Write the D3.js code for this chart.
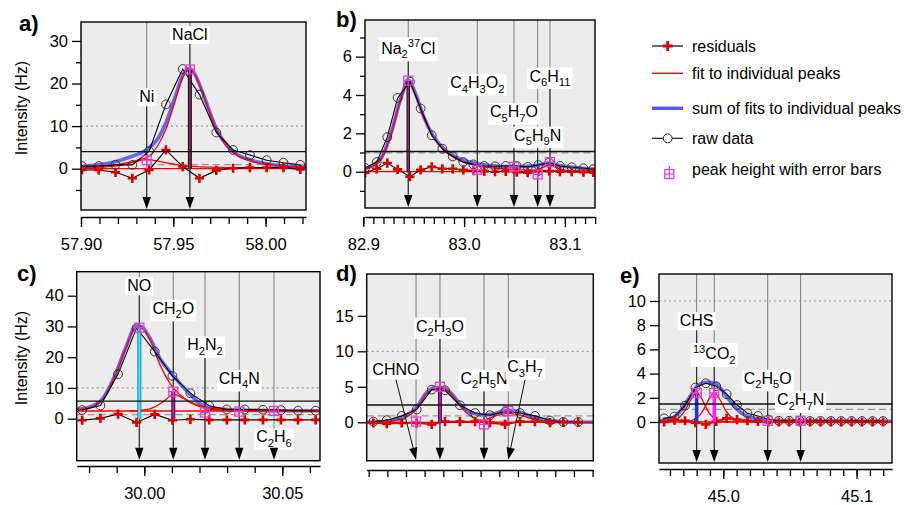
<!DOCTYPE html>
<html><head><meta charset="utf-8">
<script src="https://cdn.jsdelivr.net/npm/d3@7"></script>
<style>body{margin:0;background:#fff}svg{display:block}text{font-family:Arial,"Liberation Sans",sans-serif}</style>
</head><body><svg id="chart" width="912" height="505"></svg>
<script>
// ---------------- DATA ----------------
// Panel a
const massA = [57.9005,57.9096,57.9187,57.9278,57.9369,57.9460,57.9551,57.9642,57.9733,57.9824,57.9915,58.0006,58.0097,58.0188];
const rawA = [0.6,0.6,0.9,0.9,4.1,15.1,23.4,17.4,8.5,4.4,3.2,2.0,1.4,0.9];
const residA = [-0.3,-0.3,-0.85,-2.25,-0.3,4.4,0.5,-2.25,-0.4,0.1,0.25,0.25,0.25,-0.15];
const sumA = [[57.9000,0.5],[57.9092,0.9],[57.9180,1.6],[57.9270,2.8],[57.9360,4.6],[57.9417,7.1],[57.9462,11.0],[57.9507,16.5],[57.9552,22.0],[57.9588,23.5],[57.9615,22.3],[57.9651,18.8],[57.9697,13.4],[57.9741,8.7],[57.9795,5.2],[57.9850,3.2],[57.9922,2.0],[58.0012,1.1],[58.0103,0.63],[58.0219,0.3]];
const fitNiA = [[57.9000,0.2],[57.9150,0.5],[57.9250,1.1],[57.9310,1.8],[57.9356,2.2],[57.9400,1.9],[57.9500,1.1],[57.9550,0.7],[57.9700,0.35],[58.0000,0.15],[58.0219,0.1]];
const fitNaClA = [[57.9000,0.3],[57.9180,0.9],[57.9300,1.9],[57.9370,3.0],[57.9417,5.5],[57.9462,9.5],[57.9507,15.5],[57.9552,21.5],[57.9588,23.2],[57.9615,22.2],[57.9651,18.6],[57.9697,13.2],[57.9741,8.5],[57.9795,5.0],[57.9850,3.0],[57.9922,1.8],[58.0012,1.0],[58.0103,0.55],[58.0219,0.3]];
const peakMassA = [57.9356,57.9590];
const peakHeightA = [2.0,23.3];
const peakErrA = [0.6,0.8];
const peakLabelA = ["Ni","NaCl"];
const labelMassA = [57.9356,57.9590];
const labelYA = [16.9,31.5];
const thresholdA = 4.0, dashedA = 0.95, dashedStartA = 57.9356, baselineA = 0;
const xTickLabelsA = [57.90,57.95,58.00];
const yTickLabelsA = [0,10,20,30];
const yMinorA = [-5,5,15,25];

// Panel b
const massB = [82.9017,82.9133,82.9238,82.9341,82.9463,82.9569,82.9679,82.9784,82.9887,82.9992,83.0091,83.0200,83.0307,83.0413,83.0522,83.0631,83.0736,83.0845,83.0951,83.1067,83.1183,83.1282];
const rawB = [0.2,0.5,1.8,3.85,4.7,3.3,1.9,1.2,0.8,0.5,0.38,0.3,0.28,0.3,0.3,0.25,0.35,0.47,0.3,0.23,0.18,0.13];
const residB = [-0.05,0.15,0.45,0.12,-0.26,0.1,0.25,0.15,0.15,0.1,0.05,0.02,0.0,0.02,-0.02,-0.05,0.02,0.03,0.0,0.0,-0.03,-0.04];
const sumB = [[82.9017,0.18],[82.9086,0.3],[82.9186,0.78],[82.9285,2.17],[82.9367,3.74],[82.9450,4.75],[82.9516,4.09],[82.9599,2.87],[82.9698,1.83],[82.9813,1.13],[82.9946,0.7],[83.0111,0.44],[83.0310,0.3],[83.0508,0.26],[83.0674,0.3],[83.0839,0.42],[83.0971,0.3],[83.1170,0.18],[83.1299,0.12]];
const fitNa2ClB = [[82.9017,0.15],[82.9086,0.28],[82.9186,0.75],[82.9285,2.1],[82.9367,3.7],[82.9450,4.7],[82.9516,4.05],[82.9599,2.82],[82.9698,1.78],[82.9813,1.05],[82.9946,0.6],[83.0111,0.33],[83.0310,0.18],[83.0508,0.11],[83.0674,0.08],[83.0839,0.06],[83.1299,0.04]];
const fitC6H11B = [[83.0600,0.0],[83.0750,0.15],[83.0852,0.35],[83.0950,0.15],[83.1100,0.0]];
const peakMassB = [82.9446,83.0131,83.0495,83.0730,83.0852];
const peakHeightB = [4.75,0.1,0.26,-0.14,0.5];
const peakErrB = [0.15,0.1,0.1,0.1,0.1];
const peakLabelB = ["Na_2^37Cl","C_4H_3O_2","C_5H_7O","C_5H_9N","C_6H_11"];
const labelMassB = [82.9446,83.0131,83.0495,83.0730,83.0852];
const labelYB = [6.44,4.64,3.13,1.91,4.99];
const thresholdB = 1.05, dashedB = 0.98, dashedStartB = 82.9, baselineB = 0;
const xTickLabelsB = [82.9,83.0,83.1];
const yTickLabelsB = [0,2,4,6];
const yMinorB = [-1,1,3,5,7];

// Panel c
const massC = [29.9775,29.9841,29.9905,29.9972,30.0038,30.0102,30.0167,30.0235,30.0299,30.0364,30.0430,30.0495,30.0557,30.0621];
const rawC = [2.8,4.3,14.5,29.5,21.8,13.9,8.3,4.2,3.0,3.0,2.9,2.8,2.6,2.6];
const residC = [-0.5,0.1,1.5,-1.2,1.4,-0.5,-0.2,-0.4,-0.4,-0.4,-0.4,-0.4,-0.4,-0.4];
const sumC = [[29.9755,3.0],[29.9800,3.7],[29.9850,6.6],[29.9897,14.8],[29.9934,23.4],[29.9970,30.1],[29.9988,30.0],[30.0021,26.1],[30.0057,19.5],[30.0093,15.3],[30.0129,11.5],[30.0166,7.9],[30.0202,4.9],[30.0249,3.3],[30.0321,2.9],[30.0405,2.7],[30.0503,2.6],[30.0637,2.6]];
const fitNOC = [[29.9755,2.9],[29.9800,3.5],[29.9850,6.3],[29.9897,14.5],[29.9934,23.2],[29.9970,29.8],[29.9988,29.7],[30.0021,25.5],[30.0057,17.5],[30.0093,11.5],[30.0129,7.8],[30.0166,5.5],[30.0202,4.2],[30.0249,3.4],[30.0321,2.9],[30.0405,2.7],[30.0637,2.55]];
const fitCH2OC = [[29.9950,2.5],[30.0020,3.2],[30.0060,5.0],[30.0093,7.3],[30.0105,8.0],[30.0130,7.2],[30.0166,5.3],[30.0202,3.9],[30.0250,3.0],[30.0320,2.6],[30.0637,2.5]];
const peakMassC = [29.9982,30.0105,30.0220,30.0344,30.0470];
const peakHeightC = [29.6,8.8,2.0,2.3,2.5];
const peakErrC = [1.2,1.0,0.8,0.8,0.8];
const peakLabelC = ["NO","CH_2O","H_2N_2","CH_4N","C_2H_6"];
const labelMassC = [29.9982,30.0105,30.0220,30.0344,30.0470];
const labelYC = [43.2,35.9,24.0,13.1,-5.9];
const thresholdC = 5.7, dashedC = 1.3, dashedStartC = 29.9755, baselineC = 2.5;
const xTickLabelsC = [30.00,30.05];
const yTickLabelsC = [0,10,20,30,40];
const yMinorC = [];

// Panel d
const massD = [42.9825,42.9897,42.9977,43.0057,43.0138,43.0209,43.0289,43.0370,43.0450,43.0531,43.0611,43.0691,43.0772,43.0843,43.0923];
const rawD = [0.1,0.3,0.9,1.8,4.6,4.5,2.4,1.3,1.0,1.5,1.3,0.9,0.25,0.05,0.05];
const residD = [-0.1,-0.2,-0.1,-0.1,-0.3,0.1,0.1,0.1,-0.1,-0.3,0.1,0.1,-0.05,0.0,0.0];
const sumD = [[42.9789,0.0],[42.9893,0.1],[42.9982,0.8],[43.0054,2.0],[43.0107,4.1],[43.0152,4.9],[43.0197,4.9],[43.0241,4.1],[43.0295,2.4],[43.0357,1.27],[43.0420,1.03],[43.0482,1.27],[43.0536,1.7],[43.0589,1.6],[43.0661,0.93],[43.0733,0.42],[43.0822,0.1],[43.0929,0.0],[43.1004,0.0]];
const fitC2H3OD = [[42.9789,0.0],[42.9930,0.2],[43.0000,0.7],[43.0054,1.8],[43.0107,3.9],[43.0152,4.7],[43.0182,4.8],[43.0215,4.6],[43.0255,3.6],[43.0295,2.1],[43.0357,0.7],[43.0420,0.15],[43.0500,0.0],[43.1004,0.0]];
const fitC3H7D = [[43.0350,0.0],[43.0420,0.3],[43.0480,0.9],[43.0548,1.3],[43.0610,1.0],[43.0661,0.6],[43.0733,0.2],[43.0820,0.0]];
const peakMassD = [43.0054,43.0182,43.0418,43.0548];
const peakHeightD = [0.1,5.0,-0.3,1.6];
const peakErrD = [0.5,0.5,0.4,0.4];
const peakLabelD = ["CHNO","C_2H_3O","C_2H_5N","C_3H_7"];
const labelMassD = [42.9946,43.0182,43.0418,43.0638];
const labelYD = [7.37,13.56,6.2,7.83];
const thresholdD = 2.44, dashedD = 0.9, dashedStartD = 42.9789, baselineD = 0;
const xTickLabelsD = [43.00,43.05,43.10];
const yTickLabelsD = [0,5,10,15];
const yMinorD = [];

// Panel e
const massE = [44.9556,44.9634,44.9713,44.9791,44.9869,44.9947,45.0025,45.0103,45.0181,45.0260,45.0338,45.0416,45.0494,45.0572,45.0651,45.0729,45.0807,45.0885,45.0963,45.1041,45.1120,45.1198];
const rawE = [0.3,0.45,1.35,2.85,3.2,2.95,2.3,1.4,0.72,0.5,0.2,0.1,0.1,0.1,0.08,0.08,0.08,0.08,0.08,0.08,0.08,0.08];
const residE = [0.0,0.15,0.1,-0.05,-0.2,0.05,0.3,0.2,0.1,0.05,0.0,0.0,0.0,0.0,0.0,0.0,0.0,0.0,0.0,0.0,0.0,0.0];
const sumE = [[44.9518,0.1],[44.9613,0.3],[44.9688,1.05],[44.9750,2.1],[44.9812,3.06],[44.9875,3.28],[44.9938,3.2],[45.0000,2.5],[45.0063,1.55],[45.0138,0.72],[45.0238,0.3],[45.0363,0.1],[45.1265,0.05]];
const fitCHSE = [[44.9550,0.02],[44.9650,0.25],[44.9710,0.9],[44.9760,1.9],[44.9800,2.4],[44.9835,2.0],[44.9866,1.3],[44.9900,0.65],[44.9950,0.2],[45.0020,0.03],[45.0100,0.0]];
const fitCO2E = [[44.9700,0.0],[44.9780,0.2],[44.9830,0.65],[44.9866,1.3],[44.9897,2.0],[44.9932,2.4],[44.9972,1.9],[45.0020,0.9],[45.0080,0.25],[45.0150,0.03],[45.0250,0.0]];
const peakMassE = [44.9800,44.9932,45.0333,45.0580];
const peakHeightE = [2.4,2.4,0.1,0.1];
const peakErrE = [0.3,0.3,0.2,0.2];
const peakLabelE = ["CHS","^13CO_2","C_2H_5O","C_2H_7N"];
const labelMassE = [44.9800,44.9932,45.0333,45.0580];
const labelYE = [8.37,5.62,3.61,1.82];
const thresholdE = 1.49, dashedE = 1.05, dashedStartE = 44.9518, baselineE = 0;
const xTickLabelsE = [45.0,45.1];
const yTickLabelsE = [0,2,4,6,8,10];
const yMinorE = [];

const legendLabels = ["residuals","fit to individual peaks","sum of fits to individual peaks","raw data","peak height with error bars"];

// ---------------- LAYOUT / STYLE ----------------
const C_SUM = "#5858f4", C_RED = "#ff0000", C_RES = "#d80000", C_PK = "#e040d0";
const panels = [
  {name:"a)", nameXY:[19,31], box:{l:81,r:306,t:22,b:210}, axisY:217, xd:[57.90,58.0219], yd:[-9.7,34.45], minor:[57.90,58.02], fmt:".2f",
   mass:massA, raw:rawA, resid:residA, sum:sumA, fits:[fitNiA,fitNaClA], base:baselineA, peaks:peakMassA, heights:peakHeightA, errs:peakErrA,
   labels:peakLabelA, labelMass:labelMassA, labelY:labelYA, thr:thresholdA, dash:dashedA, dashStart:dashedStartA, xLab:xTickLabelsA, yLab:yTickLabelsA, yMinor:yMinorA,
   residColor:"#000", stems:[{o:"#ff66cc",ow:1.5},{o:"#111",ow:4,i:"#b0207a",iw:1.5}]},
  {name:"b)", nameXY:[336,27], box:{l:365,r:595,t:20,b:208}, axisY:217, xd:[82.90169,83.12986], yd:[-1.894,7.913], minor:[82.90,83.13], fmt:".1f",
   mass:massB, raw:rawB, resid:residB, sum:sumB, fits:[fitNa2ClB,fitC6H11B], base:baselineB, peaks:peakMassB, heights:peakHeightB, errs:peakErrB,
   labels:peakLabelB, labelMass:labelMassB, labelY:labelYB, thr:thresholdB, dash:dashedB, dashStart:dashedStartB, xLab:xTickLabelsB, yLab:yTickLabelsB, yMinor:yMinorB,
   residColor:"#000", stems:[{o:"#111",ow:3.5,i:"#b0207a",iw:1.5},null,null,null,null]},
  {name:"c)", nameXY:[17,281], box:{l:76.7,r:320,t:271.7,b:460.7}, axisY:466, xd:[29.97551,30.06366], yd:[-13.66,47.80], minor:[29.98,30.06], fmt:".2f",
   mass:massC, raw:rawC, resid:residC, sum:sumC, fits:[fitNOC,fitCH2OC], base:baselineC, peaks:peakMassC, heights:peakHeightC, errs:peakErrC,
   labels:peakLabelC, labelMass:labelMassC, labelY:labelYC, thr:thresholdC, dash:dashedC, dashStart:dashedStartC, xLab:xTickLabelsC, yLab:yTickLabelsC, yMinor:yMinorC,
   residColor:"#000", stems:[{o:"#0d7f96",ow:4,i:"#45e3f5",iw:2.2},{o:"#5a005a",ow:4,i:"#a02898",iw:2},null,null,null]},
  {name:"d)", nameXY:[336,281], box:{l:366.7,r:593.3,t:274,b:460.7}, axisY:470, xd:[42.97894,43.10038], yd:[-5.41,20.89], minor:[42.98,43.10], fmt:".2f", clipR:589,
   mass:massD, raw:rawD, resid:residD, sum:sumD, fits:[fitC2H3OD,fitC3H7D], base:baselineD, peaks:peakMassD, heights:peakHeightD, errs:peakErrD,
   labels:peakLabelD, labelMass:labelMassD, labelY:labelYD, thr:thresholdD, dash:dashedD, dashStart:dashedStartD, xLab:xTickLabelsD, yLab:yTickLabelsD, yMinor:yMinorD,
   residColor:"#e00000", stems:[null,{o:"#5a005a",ow:4,i:"#a02898",iw:2},null,{o:"#d040d0",ow:2}]},
  {name:"e)", nameXY:[620,283], box:{l:659,r:892,t:274,b:463}, axisY:469, xd:[44.95176,45.12656], yd:[-3.39,12.23], minor:[44.96,45.12], fmt:".1f",
   mass:massE, raw:rawE, resid:residE, sum:sumE, fits:[fitCHSE,fitCO2E], base:baselineE, peaks:peakMassE, heights:peakHeightE, errs:peakErrE,
   labels:peakLabelE, labelMass:labelMassE, labelY:labelYE, thr:thresholdE, dash:dashedE, dashStart:dashedStartE, xLab:xTickLabelsE, yLab:yTickLabelsE, yMinor:yMinorE,
   residColor:"#e00000", stems:[{o:"#2436d8",ow:3.5},{o:"#ff22ff",ow:3.5},null,null]}
];

const svg = d3.select("#chart");
const defs = svg.append("defs");
const FONT = "Arial, 'Liberation Sans', sans-serif";

function parseLabel(s){
  const segs=[]; let i=0;
  while(i<s.length){
    const c=s[i];
    if(c==="_"||c==="^"){ let j=i+1, d=""; while(j<s.length && /[0-9]/.test(s[j])){d+=s[j];j++;} segs.push({t:d,k:c==="_"?"sub":"sup"}); i=j; }
    else { let j=i, d=""; while(j<s.length && s[j]!=="_" && s[j]!=="^"){d+=s[j];j++;} segs.push({t:d,k:"n"}); i=j; }
  }
  return segs;
}
function richText(g, str, x, y, size, anchor){
  const t = g.append("text").attr("x",x).attr("y",y).attr("text-anchor",anchor||"middle").attr("font-size",size).attr("font-family",FONT).attr("fill","#000");
  let cur=0;
  parseLabel(str).forEach(s=>{
    const target = s.k==="sub"? size*0.28 : s.k==="sup"? -size*0.4 : 0;
    t.append("tspan").attr("dy",target-cur).attr("font-size", s.k==="n"? size : size*0.7).text(s.t);
    cur=target;
  });
  return t;
}
function plusPath(s){ return `M${-s},0H${s}M0,${-s}V${s}`; }

panels.forEach((p,pi)=>{
  const {l,r,t,b} = p.box;
  const x = d3.scaleLinear().domain(p.xd).range([l,r]);
  const y = d3.scaleLinear().domain(p.yd).range([b,t]);
  const cid = "clip"+pi;
  defs.append("clipPath").attr("id",cid).append("rect").attr("x",l).attr("y",t).attr("width",r-l).attr("height",b-t);
  const g = svg.append("g");
  g.append("rect").attr("x",l).attr("y",t).attr("width",r-l).attr("height",b-t).attr("fill","#ececec");
  const pg = g.append("g").attr("clip-path",`url(#${cid})`);
  const gRef = pg.append("g"), gLines = pg.append("g"), gSum = pg.append("g"), gFit = pg.append("g"), gRaw = pg.append("g"),
        gRes = pg.append("g"), gStem = pg.append("g"), gPk = pg.append("g"), gLab = g.append("g"), gThr = pg.append("g"), gArr = g.append("g");

  // reference lines
  if (10 < p.yd[1]) gRef.append("line").attr("x1",l).attr("x2",r).attr("y1",y(10)).attr("y2",y(10)).attr("stroke","#9a9a9a").attr("stroke-width",1.2).attr("stroke-dasharray","2,3");
  gRef.append("line").attr("x1",x(p.dashStart)).attr("x2",r).attr("y1",y(p.dash)).attr("y2",y(p.dash)).attr("stroke","#999").attr("stroke-width",1.3).attr("stroke-dasharray","7,4");

  // labels first (to know their extents)
  const boxes = p.labels.map((lab,i)=>{
    const cx = x(p.labelMass[i]), cy = y(p.labelY[i]);
    const bg = gLab.append("rect").attr("fill","#fff");
    const tx = richText(gLab, lab, cx, cy+5.5, 16);
    const bb = tx.node().getBBox();
    bg.attr("x",bb.x-2).attr("y",bb.y).attr("width",bb.width+4).attr("height",bb.height+1);
    return {cx, top:bb.y, bot:bb.y+bb.height+1};
  });

  // peak marker lines and arrows
  p.peaks.forEach((m,i)=>{
    const px = x(m), bx = boxes[i];
    const tipY = b-1, ah = 12;
    gLines.append("line").attr("x1",px).attr("x2",px).attr("y1",t).attr("y2",tipY-ah).attr("stroke","#7c7c7c").attr("stroke-width",1);
    let dx=0, dy=1;
    if (Math.abs(bx.cx-px) < 1) {
      gLines.append("line").attr("x1",px).attr("x2",px).attr("y1",bx.bot).attr("y2",tipY-ah).attr("stroke","#222").attr("stroke-width",1);
    } else {
      const sx=bx.cx, sy=bx.bot; const L=Math.hypot(px-sx,tipY-sy); dx=(px-sx)/L; dy=(tipY-sy)/L;
      gArr.append("line").attr("x1",sx).attr("y1",sy).attr("x2",px-dx*ah).attr("y2",tipY-dy*ah).attr("stroke","#111").attr("stroke-width",1);
    }
    const bxp = px-dx*ah, byp = tipY-dy*ah, nx=-dy, ny=dx;
    gArr.append("path").attr("d",`M${px},${tipY}L${bxp+nx*4.2},${byp+ny*4.2}L${bxp-nx*4.2},${byp-ny*4.2}Z`).attr("fill","#000");
  });

  // sum of fits
  const curve = d3.line().x(d=>x(d[0])).y(d=>y(d[1])).curve(d3.curveMonotoneX);
  gSum.append("path").attr("d",curve(p.sum)).attr("fill","none").attr("stroke",C_SUM).attr("stroke-width",3.6).attr("opacity",0.9);
  // baseline fit and individual fits
  gFit.append("line").attr("x1",l).attr("x2",r).attr("y1",y(p.base)).attr("y2",y(p.base)).attr("stroke",C_RED).attr("stroke-width",1.3);
  p.fits.forEach(f=>gFit.append("path").attr("d",curve(f)).attr("fill","none").attr("stroke",C_RED).attr("stroke-width",1.3));

  // raw data
  const lin = d3.line().x(d=>x(d[0])).y(d=>y(d[1]));
  const rawPts = p.mass.map((m,i)=>[m,p.raw[i]]);
  gRaw.append("path").attr("d",lin(rawPts)).attr("fill","none").attr("stroke","#000").attr("stroke-width",1.1);
  gRaw.selectAll("circle").data(rawPts).join("circle").attr("cx",d=>x(d[0])).attr("cy",d=>y(d[1])).attr("r",4.4).attr("fill","none").attr("stroke","#222").attr("stroke-width",0.9);

  // residuals
  const resPts = p.mass.map((m,i)=>[m,p.resid[i]]);
  gRes.append("path").attr("d",lin(resPts)).attr("fill","none").attr("stroke",p.residColor).attr("stroke-width",p.residColor==="#000"?1.1:1.6);
  gRes.selectAll("path.pl").data(resPts).join("path").attr("class","pl").attr("transform",d=>`translate(${x(d[0])},${y(d[1])})`).attr("d",plusPath(4.6)).attr("stroke",C_RES).attr("stroke-width",2.6);

  // stems
  p.peaks.forEach((m,i)=>{
    const s = p.stems[i]; if(!s) return;
    gStem.append("line").attr("x1",x(m)).attr("x2",x(m)).attr("y1",y(0)).attr("y2",y(p.heights[i])).attr("stroke",s.o).attr("stroke-width",s.ow);
    if (s.i) gStem.append("line").attr("x1",x(m)).attr("x2",x(m)).attr("y1",y(0)).attr("y2",y(p.heights[i])).attr("stroke",s.i).attr("stroke-width",s.iw);
  });

  // peak heights with error bars
  p.peaks.forEach((m,i)=>{
    const px=x(m), py=y(p.heights[i]), e=p.errs[i], hs=4.5;
    const y1=Math.min(py-hs, y(p.heights[i]+e)), y2=Math.max(py+hs, y(p.heights[i]-e));
    gPk.append("rect").attr("x",px-hs).attr("y",py-hs).attr("width",hs*2).attr("height",hs*2).attr("fill","none").attr("stroke",C_PK).attr("stroke-width",1.3);
    gPk.append("line").attr("x1",px).attr("x2",px).attr("y1",y1).attr("y2",y2).attr("stroke",C_PK).attr("stroke-width",1.2);
    gPk.append("line").attr("x1",px-hs).attr("x2",px+hs).attr("y1",py).attr("y2",py).attr("stroke",C_PK).attr("stroke-width",1.2);
  });

  // threshold
  gThr.append("line").attr("x1",l).attr("x2",r).attr("y1",y(p.thr)).attr("y2",y(p.thr)).attr("stroke","#111").attr("stroke-width",1.4);

  // frame
  g.append("rect").attr("x",l).attr("y",t).attr("width",r-l).attr("height",b-t).attr("fill","none").attr("stroke","#000").attr("stroke-width",1.4);

  // x axis
  const n = Math.round((p.minor[1]-p.minor[0])/0.01);
  const minorVals = d3.range(n+1).map(i=>+(p.minor[0]+i*0.01).toFixed(2));
  const gx = g.append("g").attr("transform",`translate(0,${p.axisY})`)
    .call(d3.axisBottom(x).tickValues(minorVals).tickSize(7).tickSizeOuter(0).tickFormat(""));
  gx.select(".domain").attr("stroke-width",1.4);
  gx.selectAll(".tick line").attr("stroke-width",1.3);
  const gx2 = g.append("g").attr("transform",`translate(0,${p.axisY})`)
    .call(d3.axisBottom(x).tickValues(p.xLab).tickSize(10).tickPadding(11).tickFormat(d3.format(p.fmt)));
  gx2.select(".domain").remove();
  gx2.selectAll(".tick line").attr("stroke-width",1.3);
  gx2.selectAll("text").attr("font-size",16.5).attr("font-family",FONT).attr("fill","#000");
  if (p.clipR) {
    defs.append("clipPath").attr("id","xl"+pi).append("rect").attr("x",l-40).attr("y",p.axisY).attr("width",p.clipR-(l-40)).attr("height",50);
    gx2.attr("clip-path",`url(#xl${pi})`);
  }
  // y axis
  const gy = g.append("g").attr("transform",`translate(${l},0)`)
    .call(d3.axisLeft(y).tickValues(p.yLab).tickSize(9).tickPadding(4).tickFormat(d3.format("d")));
  gy.select(".domain").remove();
  gy.selectAll(".tick line").attr("stroke-width",1.3);
  gy.selectAll("text").attr("font-size",16.5).attr("font-family",FONT).attr("fill","#000");
  if (p.yMinor.length) {
    const gy2 = g.append("g").attr("transform",`translate(${l},0)`)
      .call(d3.axisLeft(y).tickValues(p.yMinor).tickSize(5).tickFormat(""));
    gy2.select(".domain").remove();
    gy2.selectAll(".tick line").attr("stroke-width",1.3);
  }
  // panel name
  svg.append("text").attr("x",p.nameXY[0]).attr("y",p.nameXY[1]).attr("font-size",22).attr("font-weight","bold").attr("font-family",FONT).text(p.name);
});

// y-axis titles
[[27,108],[27,358]].forEach(([cx,cy])=>{
  svg.append("text").attr("transform",`translate(${cx},${cy}) rotate(-90)`).attr("text-anchor","middle").attr("font-size",16).attr("font-family",FONT).text("Intensity (Hz)");
});

// legend
const lg = svg.append("g");
const lx1=652, lx2=683, lmx=667.7, ltx=692;
const ly = [46,73.3,108.3,138.3,169.3];
lg.append("line").attr("x1",lx1).attr("x2",lx2).attr("y1",ly[0]).attr("y2",ly[0]).attr("stroke","#000").attr("stroke-width",1.2);
lg.append("path").attr("transform",`translate(${lmx},${ly[0]})`).attr("d",plusPath(5)).attr("stroke",C_RES).attr("stroke-width",2.8);
lg.append("line").attr("x1",lx1).attr("x2",lx2).attr("y1",ly[1]).attr("y2",ly[1]).attr("stroke",C_RED).attr("stroke-width",1.4);
lg.append("line").attr("x1",lx1).attr("x2",lx2).attr("y1",ly[2]).attr("y2",ly[2]).attr("stroke",C_SUM).attr("stroke-width",3.5);
lg.append("line").attr("x1",lx1).attr("x2",lx2).attr("y1",ly[3]).attr("y2",ly[3]).attr("stroke","#000").attr("stroke-width",1.1);
lg.append("circle").attr("cx",lmx).attr("cy",ly[3]).attr("r",4.4).attr("fill","#fff").attr("stroke","#222");
const sx=669.3, sy=174;
lg.append("rect").attr("x",sx-4.5).attr("y",sy-4.5).attr("width",9).attr("height",9).attr("fill","none").attr("stroke",C_PK).attr("stroke-width",1.3);
lg.append("line").attr("x1",sx).attr("x2",sx).attr("y1",sy-8).attr("y2",sy+4.5).attr("stroke",C_PK).attr("stroke-width",1.2);
lg.append("line").attr("x1",sx-4.5).attr("x2",sx+4.5).attr("y1",sy).attr("y2",sy).attr("stroke",C_PK).attr("stroke-width",1.2);
legendLabels.forEach((s,i)=>{
  lg.append("text").attr("x",ltx).attr("y",ly[i]).attr("dy","0.35em").attr("font-size",16).attr("font-family",FONT).text(s);
});
</script></body></html>
